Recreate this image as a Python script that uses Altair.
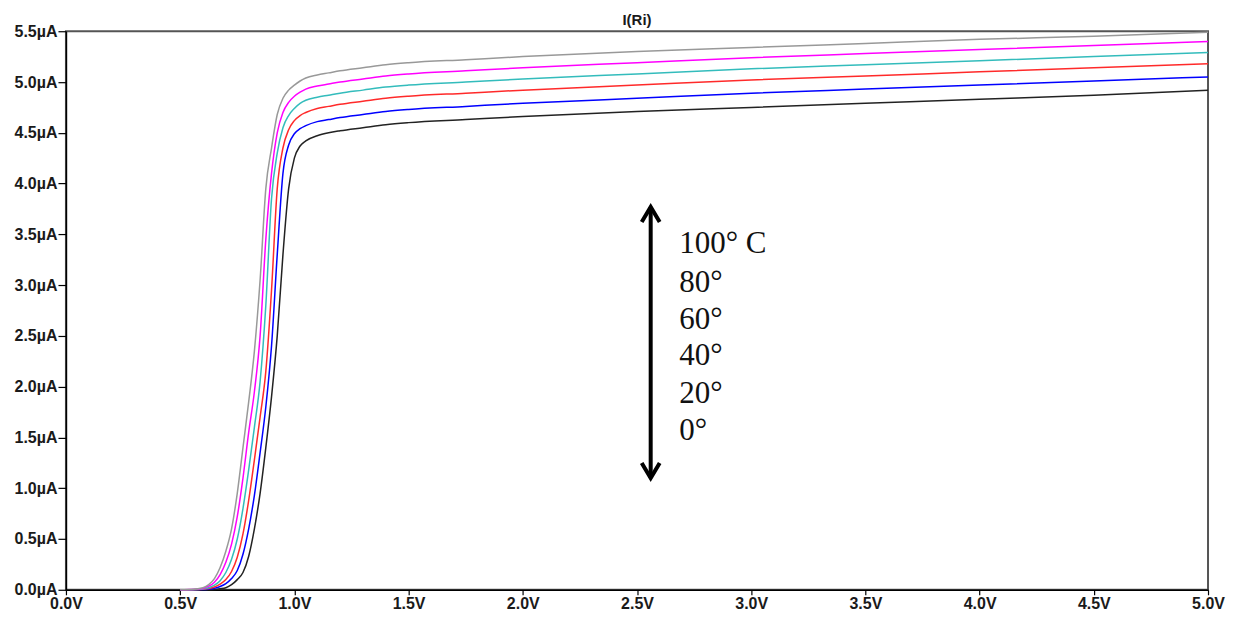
import altair as alt
import pandas as pd

# Sweep voltage (V)
V = [0.5, 0.55, 0.6, 0.625, 0.65, 0.675, 0.7, 0.725, 0.75, 0.775, 0.8, 0.825, 0.85,
     0.875, 0.9, 0.925, 0.95, 0.975, 1.0, 1.025, 1.05, 1.1, 1.15, 1.2, 1.3, 1.4, 1.5,
     1.75, 2.0, 2.5, 3.0, 3.5, 4.0, 4.5, 5.0]

# Current I(Ri) in µA per temperature
I_0 = [0, 0, 0, 0.001, 0.003, 0.01, 0.02, 0.05, 0.1, 0.17, 0.33, 0.6, 0.95,
       1.4, 1.9, 2.5, 3.3, 3.95, 4.25, 4.37, 4.42, 4.47, 4.5, 4.52, 4.55, 4.58, 4.6,
       4.63, 4.66, 4.71, 4.75, 4.79, 4.83, 4.87, 4.92]
I_20 = [0, 0.0005, 0.002, 0.006, 0.015, 0.032, 0.06, 0.11, 0.19, 0.35, 0.6, 0.93, 1.35,
        1.8, 2.4, 3.3, 4.1, 4.38, 4.49, 4.54, 4.57, 4.61, 4.63, 4.65, 4.68, 4.71, 4.73,
        4.76, 4.79, 4.84, 4.89, 4.93, 4.97, 5.01, 5.05]
I_40 = [0, 0.001, 0.004, 0.012, 0.027, 0.055, 0.1, 0.18, 0.32, 0.55, 0.88, 1.28, 1.7,
        2.15, 2.95, 3.95, 4.35, 4.53, 4.62, 4.67, 4.7, 4.74, 4.76, 4.78, 4.81, 4.84, 4.86,
        4.89, 4.92, 4.97, 5.02, 5.06, 5.1, 5.14, 5.18]
I_60 = [0, 0.001, 0.007, 0.02, 0.045, 0.09, 0.17, 0.3, 0.5, 0.8, 1.18, 1.6, 2.05,
        2.8, 3.85, 4.3, 4.55, 4.67, 4.74, 4.79, 4.82, 4.85, 4.87, 4.89, 4.92, 4.95, 4.97,
        5.0, 5.03, 5.08, 5.13, 5.17, 5.21, 5.25, 5.29]
I_80 = [0, 0.002, 0.012, 0.035, 0.075, 0.15, 0.27, 0.45, 0.72, 1.1, 1.55, 1.95, 2.5,
        3.45, 4.1, 4.5, 4.7, 4.8, 4.86, 4.9, 4.93, 4.96, 4.98, 5.0, 5.03, 5.06, 5.08,
        5.11, 5.14, 5.19, 5.24, 5.28, 5.32, 5.36, 5.4]
I_100 = [0, 0.003, 0.02, 0.05, 0.11, 0.22, 0.38, 0.6, 0.95, 1.4, 1.85, 2.35, 3.05,
         3.95, 4.35, 4.68, 4.84, 4.92, 4.97, 5.01, 5.04, 5.07, 5.09, 5.11, 5.14, 5.17, 5.19,
         5.22, 5.25, 5.3, 5.34, 5.38, 5.42, 5.45, 5.49]

temps = ["0°", "20°", "40°", "60°", "80°", "100°"]
series = [I_0, I_20, I_40, I_60, I_80, I_100]
colors = ["#222222", "#0000ff", "#ff2a2a", "#33bcbc", "#ff00ff", "#999999"]

x_ticks = [0.0, 0.5, 1.0, 1.5, 2.0, 2.5, 3.0, 3.5, 4.0, 4.5, 5.0]
y_ticks = [0.0, 0.5, 1.0, 1.5, 2.0, 2.5, 3.0, 3.5, 4.0, 4.5, 5.0, 5.5]

# Annotation
label_text = ["100° C", "80°", "60°", "40°", "20°", "0°"]
label_y = [3.40, 3.02, 2.66, 2.30, 1.93, 1.56]
label_x = [2.685] * 6
arrow_x = [2.56]
arrow_top = [3.77]
arrow_bottom = [1.10]

rows = []
for t, s in zip(temps, series):
    for v, i in zip(V, s):
        rows.append({"V": v, "I": i, "T": t})
df = pd.DataFrame(rows)

xscale = alt.Scale(domain=[0, 5], nice=False)
yscale = alt.Scale(domain=[0, 5.5], nice=False)

axis_common = dict(
    grid=False, title=None, labelFont="Liberation Sans", labelFontSize=16,
    labelFontWeight="bold", labelColor="#1a1a1a", domainColor="#000000",
    domainWidth=1.5, tickColor="#000000", tickWidth=1.2, labelFlush=False,
)

lines = alt.Chart(df).mark_line(strokeWidth=1.5, interpolate="monotone").encode(
    x=alt.X("V:Q", scale=xscale,
            axis=alt.Axis(values=x_ticks, labelExpr="format(datum.value,'.1f')+'V'",
                          tickSize=5, labelPadding=1, **axis_common)),
    y=alt.Y("I:Q", scale=yscale,
            axis=alt.Axis(values=y_ticks, labelExpr="format(datum.value,'.1f')+'µA'",
                          tickSize=8, labelPadding=1, **axis_common)),
    color=alt.Color("T:N", scale=alt.Scale(domain=temps, range=colors), legend=None),
)

arrow_df = pd.DataFrame({"x": arrow_x, "top": arrow_top, "bottom": arrow_bottom})
shaft = alt.Chart(arrow_df).mark_rule(strokeWidth=4, color="#000000").encode(
    x=alt.X("x:Q", scale=xscale), y=alt.Y("top:Q", scale=yscale), y2="bottom:Q")
head_top = alt.Chart(arrow_df).mark_point(
    shape="M -0.6 1 L 0 0 L 0.6 1", filled=False, strokeWidth=4, size=900,
    color="#000000", opacity=1, strokeJoin="miter").encode(
    x=alt.X("x:Q", scale=xscale), y=alt.Y("top:Q", scale=yscale))
head_bottom = alt.Chart(arrow_df).mark_point(
    shape="M -0.6 -1 L 0 0 L 0.6 -1", filled=False, strokeWidth=4, size=900,
    color="#000000", opacity=1, strokeJoin="miter").encode(
    x=alt.X("x:Q", scale=xscale), y=alt.Y("bottom:Q", scale=yscale))

lab_df = pd.DataFrame({"x": label_x, "y": label_y, "t": label_text})
labels = alt.Chart(lab_df).mark_text(
    align="left", baseline="middle", font="Liberation Serif", fontSize=31,
    color="#111111").encode(
    x=alt.X("x:Q", scale=xscale), y=alt.Y("y:Q", scale=yscale), text="t:N")

chart = alt.layer(lines, shaft, head_top, head_bottom, labels).properties(
    width=1143, height=559,
    title=alt.TitleParams("I(Ri)", font="Liberation Sans", fontSize=15, fontWeight="bold",
                          color="#1a1a1a", anchor="middle", frame="group", offset=7,
                          dy=12),
    autosize=alt.AutoSizeParams(type="none"),
    padding={"left": 58, "top": 23, "right": 20, "bottom": 25},
).configure_view(stroke="#555555", strokeWidth=2)

chart.save("out.html", embed_options={"renderer": "svg", "actions": False})
